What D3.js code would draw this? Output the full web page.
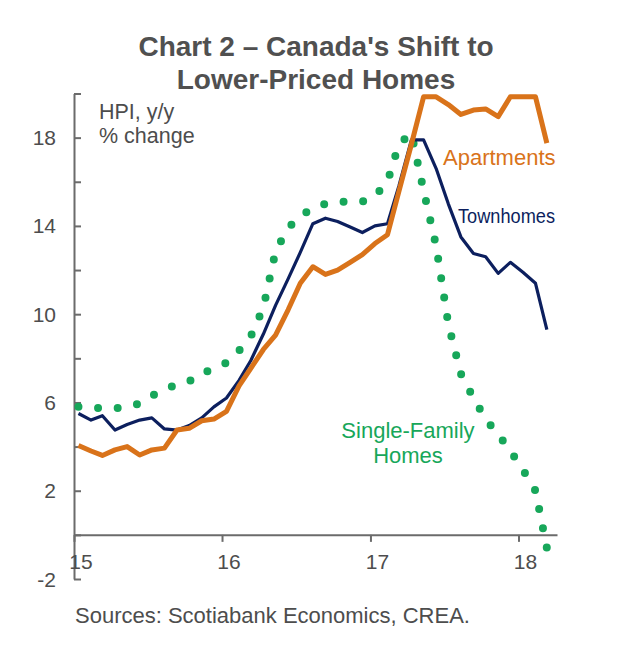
<!DOCTYPE html>
<html>
<head>
<meta charset="utf-8">
<script src="https://cdn.jsdelivr.net/npm/d3@7"></script>
<style>
  html, body { margin: 0; padding: 0; background: #ffffff; }
  text { font-family: "Liberation Sans", Arial, sans-serif; }
</style>
</head>
<body>
<script>
// ---- Data ----
const months = [
  "2015-01","2015-02","2015-03","2015-04","2015-05","2015-06","2015-07","2015-08","2015-09","2015-10","2015-11","2015-12",
  "2016-01","2016-02","2016-03","2016-04","2016-05","2016-06","2016-07","2016-08","2016-09","2016-10","2016-11","2016-12",
  "2017-01","2017-02","2017-03","2017-04","2017-05","2017-06","2017-07","2017-08","2017-09","2017-10","2017-11","2017-12",
  "2018-01","2018-02","2018-03"
];
const singleFamily = [5.81, 5.75, 5.74, 5.74, 5.8, 5.95, 6.3, 6.6, 6.8, 6.95, 7.35, 7.5,
  7.8, 8.35, 9.0, 10.3, 12.85, 13.9, 14.45, 14.8, 15.0, 15.1, 15.1, 15.1,
  15.35, 16.0, 17.7, 18.2, 15.6, 13.1, 9.55, 7.3, 6.2, 5.25, 4.55, 3.8,
  2.95, 2.0, -0.6];
const townhomes = [5.5, 5.2, 5.4, 4.75, 5.0, 5.2, 5.3, 4.8, 4.75, 4.95, 5.3, 5.8,
  6.2, 7.0, 7.9, 9.1, 10.4, 11.6, 12.8, 14.1, 14.35, 14.2, 13.95, 13.7,
  14.0, 14.1, 15.8, 17.9, 17.9, 16.6, 15.0, 13.5, 12.75, 12.6, 11.85, 12.35,
  11.9, 11.4, 9.3];
const apartments = [4.05, 3.8, 3.6, 3.85, 4.0, 3.62, 3.85, 3.93, 4.75, 4.83, 5.17, 5.25,
  5.6, 6.75, 7.55, 8.4, 9.05, 10.2, 11.4, 12.15, 11.8, 12.0, 12.35, 12.7,
  13.2, 13.6, 15.55, 17.7, 19.85, 19.85, 19.5, 19.05, 19.25, 19.3, 18.95, 19.85,
  19.85, 19.85, 17.75];
const xTickYears = ["2015", "2016", "2017", "2018"];
const xTickLabels = ["15", "16", "17", "18"];
const yMinorTicks = [-2, 0, 2, 4, 6, 8, 10, 12, 14, 16, 18, 20];
const yTickLabels = [-2, 2, 6, 10, 14, 18];

// ---- Setup ----
const W = 640, H = 660;
const svg = d3.select("body").append("svg").attr("width", W).attr("height", H);

const parseMonth = d3.timeParse("%Y-%m");
const parseYear = d3.timeParse("%Y");
const monthDates = months.map(m => d3.timeDay.offset(parseMonth(m), 11));

const x = d3.scaleTime()
  .domain([new Date(2015, 0, 1), new Date(2018, 3, 6)])
  .range([74, 557]);
const y = d3.scaleLinear().domain([-2, 20]).range([579, 93.5]);

const axisColor = "#6b6b6b";
const textColor = "#4d4d4d";

// ---- Title ----
const title = svg.append("text")
  .attr("x", 316).attr("text-anchor", "middle")
  .attr("font-size", 28).attr("font-weight", "bold").attr("fill", "#505050");
title.append("tspan").attr("x", 316).attr("y", 56).text("Chart 2 – Canada's Shift to");
title.append("tspan").attr("x", 316).attr("y", 89).text("Lower-Priced Homes");

// ---- Axes ----
const yAxis = svg.append("g")
  .attr("transform", "translate(74,0)")
  .call(d3.axisRight(y).tickValues(yMinorTicks).tickSize(7).tickSizeOuter(0).tickFormat(""));
yAxis.selectAll("path, line").attr("stroke", axisColor).attr("stroke-width", 2);

const xAxis = svg.append("g")
  .attr("transform", `translate(0,${y(0)})`)
  .call(d3.axisBottom(x).tickValues(xTickYears.map(parseYear)).tickSize(7).tickSizeOuter(0).tickFormat(""));
xAxis.selectAll("path, line").attr("stroke", axisColor).attr("stroke-width", 2);

svg.append("g").selectAll("text")
  .data(yTickLabels)
  .join("text")
  .attr("x", 56)
  .attr("y", d => y(d) + 7.5)
  .attr("text-anchor", "end")
  .attr("font-size", 21)
  .attr("fill", textColor)
  .text(d => String(d));

svg.append("g").selectAll("text")
  .data(xTickYears.map((yr, i) => ({ date: parseYear(yr), label: xTickLabels[i] })))
  .join("text")
  .attr("x", d => x(d.date) + 7)
  .attr("y", 569)
  .attr("text-anchor", "middle")
  .attr("font-size", 21)
  .attr("fill", textColor)
  .text(d => d.label);

// ---- Lines ----
const line = d3.line()
  .x((d, i) => x(monthDates[i]))
  .y(d => y(d));

const sfPath = svg.append("path")
  .datum(singleFamily)
  .attr("d", line)
  .attr("fill", "none")
  .attr("stroke", "#17a75a")
  .attr("stroke-width", 8)
  .attr("stroke-linecap", "round");
// fit the dot spacing so that a dot sits on both ends of the line
const sfLen = sfPath.node().getTotalLength();
const sfN = Math.round(sfLen / 19.5);
const sfGap = (sfLen - 0.5) / sfN;
sfPath.attr("stroke-dasharray", `0,${sfGap}`);

svg.append("path")
  .datum(townhomes)
  .attr("d", line)
  .attr("fill", "none")
  .attr("stroke", "#0c1f5e")
  .attr("stroke-width", 3.2)
  .attr("stroke-linejoin", "round");

svg.append("path")
  .datum(apartments)
  .attr("d", line)
  .attr("fill", "none")
  .attr("stroke", "#d9731a")
  .attr("stroke-width", 5)
  .attr("stroke-linejoin", "round");

// ---- Annotations ----
svg.append("text").attr("x", 99).attr("y", 119)
  .attr("font-size", 21.5).attr("fill", textColor).text("HPI, y/y");
svg.append("text").attr("x", 99).attr("y", 143)
  .attr("font-size", 21.5).attr("fill", textColor).text("% change");

svg.append("text").attr("x", 443).attr("y", 165)
  .attr("font-size", 22).attr("fill", "#d9731a").text("Apartments");

svg.append("text").attr("x", 458).attr("y", 223)
  .attr("font-size", 21).attr("fill", "#0c1f5e")
  .attr("textLength", 97).attr("lengthAdjust", "spacingAndGlyphs")
  .text("Townhomes");

svg.append("text").attr("x", 408).attr("y", 438).attr("text-anchor", "middle")
  .attr("font-size", 22).attr("fill", "#17a75a").text("Single-Family");
svg.append("text").attr("x", 408).attr("y", 463).attr("text-anchor", "middle")
  .attr("font-size", 22).attr("fill", "#17a75a").text("Homes");

// ---- Source ----
svg.append("text").attr("x", 75).attr("y", 623)
  .attr("font-size", 22).attr("fill", textColor)
  .text("Sources: Scotiabank Economics, CREA.");
</script>
</body>
</html>
